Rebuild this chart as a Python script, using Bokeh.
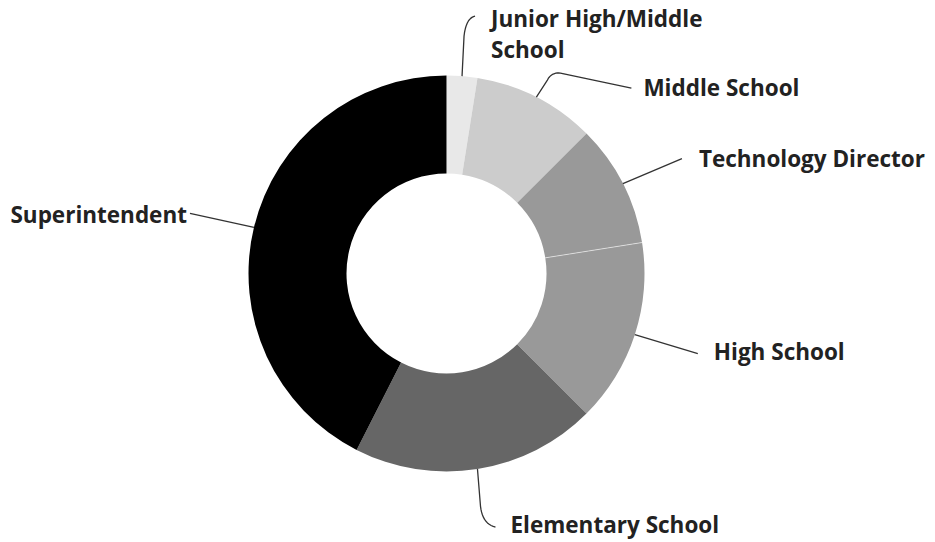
import numpy as np
from bokeh.plotting import figure
from bokeh.models import Range1d, ColumnDataSource
from bokeh.core.properties import value
from bokeh.embed import file_html
from bokeh.resources import INLINE

# ---- data ----
categories = ["Junior High/Middle\nSchool", "Middle School", "Technology Director",
              "High School", "Elementary School", "Superintendent"]
counts = [1, 4, 4, 6, 8, 17]
colors = ["#e8e8e8", "#cccccc", "#999999", "#999999", "#666666", "#000000"]

# ---- layout (page pixel coords, y negated) ----
W, H = 935, 542
CX, CY = 446, -273
R_OUT, R_IN = 198, 100

frac = np.array(counts, dtype=float) / sum(counts)
cum = np.concatenate([[0], np.cumsum(frac)])
start = np.pi / 2 - 2 * np.pi * cum[:-1]
end = np.pi / 2 - 2 * np.pi * cum[1:]
mid = (start + end) / 2

p = figure(width=W, height=H, output_backend="svg", toolbar_location=None,
           x_range=Range1d(0, W), y_range=Range1d(-H, 0),
           min_border=0, outline_line_color=None)
p.axis.visible = False
p.grid.visible = False
p.background_fill_color = "white"
p.border_fill_color = "white"

src = ColumnDataSource(dict(start=start, end=end, color=colors))
p.annular_wedge(x=CX, y=CY, inner_radius=R_IN, outer_radius=R_OUT,
                start_angle="start", end_angle="end", direction="clock",
                fill_color="color", line_color=None, source=src)

# faint separator between the two same-coloured slices
sep = end[2]
p.line(x=[CX + R_IN * np.cos(sep), CX + R_OUT * np.cos(sep)],
       y=[CY + R_IN * np.sin(sep), CY + R_OUT * np.sin(sep)],
       line_color="white", line_width=0.8, line_alpha=0.7)

# leader-line anchors on outer edge at slice mid-angle
ax = CX + R_OUT * np.cos(mid)
ay = CY + R_OUT * np.sin(mid)


def quad(p0, c, p1, n=12):
    t = np.linspace(0, 1, n)
    x = (1 - t) ** 2 * p0[0] + 2 * (1 - t) * t * c[0] + t ** 2 * p1[0]
    y = (1 - t) ** 2 * p0[1] + 2 * (1 - t) * t * c[1] + t ** 2 * p1[1]
    return list(x), list(y)

leaders = []
# Junior High
a = (ax[0], ay[0])
qx, qy = quad((a[0] + 2, a[1] + 40), (a[0] + 4, a[1] + 58), (a[0] + 13, a[1] + 60))
leaders.append(([a[0]] + qx, [a[1]] + qy))
# Middle School
a = (ax[1], ay[1])
qx, qy = quad((a[0] + 11, a[1] + 17), (a[0] + 15, a[1] + 25), (a[0] + 24, a[1] + 24))
leaders.append(([a[0]] + qx + [a[0] + 95], [a[1]] + qy + [a[1] + 9]))
# Technology Director
a = (ax[2], ay[2])
leaders.append(([a[0], a[0] + 59], [a[1], a[1] + 25]))
# High School
a = (ax[3], ay[3])
leaders.append(([a[0], a[0] + 63], [a[1], a[1] - 19]))
# Elementary School
a = (ax[4], ay[4])
qx, qy = quad((a[0] + 3, a[1] - 37), (a[0] + 5, a[1] - 55), (a[0] + 18, a[1] - 58))
leaders.append(([a[0]] + qx, [a[1]] + qy))
# Superintendent
a = (ax[5], ay[5])
leaders.append(([a[0], a[0] - 64], [a[1], a[1] + 14]))

p.multi_line(xs=[l[0] for l in leaders], ys=[l[1] for l in leaders],
             line_color="#333333", line_width=1.3)

# labels
lab_x = [ax[0] + 29, ax[1] + 107, ax[2] + 76, ax[3] + 79, ax[4] + 33, ax[5] - 67]
lab_y = [-2, ay[1] + 10, ay[2] + 25, ay[3] - 17, ay[4] - 55, ay[5] + 13]
align = ["left", "left", "left", "left", "left", "right"]
base = ["top", "middle", "middle", "middle", "middle", "middle"]

tsrc = ColumnDataSource(dict(x=lab_x, y=lab_y, text=categories, align=align, base=base))
p.text(x="x", y="y", text="text", text_align="align", text_baseline="base",
       text_font=value("Open Sans"), text_font_style="bold", text_font_size="22.5px",
       text_color="#222222", text_line_height=1.0, source=tsrc)

open("out.html", "w").write(file_html(p, INLINE))
